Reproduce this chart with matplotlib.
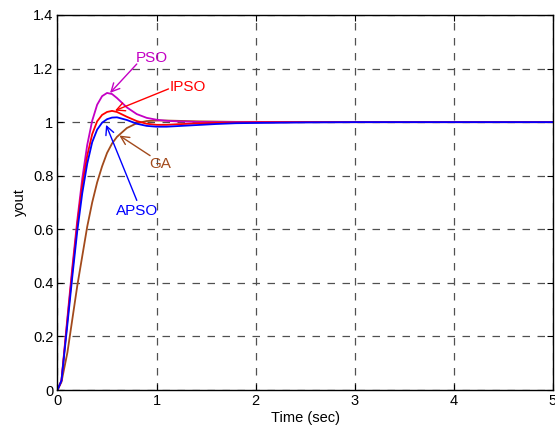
import matplotlib
matplotlib.use("Agg")
import matplotlib.pyplot as plt
import numpy as np

plt.rcParams['font.family'] = ['Liberation Sans', 'DejaVu Sans']

# time samples (s)
t = [0, 0.04, 0.1, 0.15, 0.2, 0.25, 0.3, 0.35, 0.4, 0.45, 0.5, 0.55, 0.6, 0.7, 0.8,
     0.9, 1.0, 1.1, 1.2, 1.4, 1.6, 1.8, 2.0, 2.5, 3.0, 4.0, 5.0]

pso = [0, 0.035, 0.27, 0.46, 0.635, 0.79, 0.915, 1.005, 1.065, 1.097, 1.109, 1.105, 1.09,
       1.055, 1.03, 1.016, 1.009, 1.005, 1.003, 1.001, 1.0, 1.0, 1.0, 1.0, 1.0, 1.0, 1.0]
ipso = [0, 0.035, 0.26, 0.445, 0.62, 0.765, 0.875, 0.955, 1.003, 1.027, 1.038, 1.042, 1.038,
        1.02, 1.004, 0.994, 0.99, 0.99, 0.992, 0.995, 0.997, 0.998, 0.999, 1.0, 1.0, 1.0, 1.0]
apso = [0, 0.035, 0.245, 0.425, 0.595, 0.735, 0.845, 0.925, 0.972, 0.998, 1.011, 1.017, 1.018,
        1.008, 0.994, 0.986, 0.983, 0.983, 0.985, 0.989, 0.993, 0.996, 0.997, 0.999, 1.0, 1.0, 1.0]
ga = [0, 0.03, 0.14, 0.265, 0.39, 0.5, 0.61, 0.7, 0.775, 0.835, 0.885, 0.92, 0.945,
      0.978, 0.996, 1.004, 1.006, 1.006, 1.005, 1.003, 1.002, 1.001, 1.001, 1.0, 1.0, 1.0, 1.0]

xticks = [0, 1, 2, 3, 4, 5]
yticks = [0, 0.2, 0.4, 0.6, 0.8, 1.0, 1.2, 1.4]
ytick_labels = ['0', '0.2', '0.4', '0.6', '0.8', '1', '1.2', '1.4']

c_pso = '#c400c4'
c_ipso = '#ff0000'
c_apso = '#0000ff'
c_ga = '#a24a1c'

fig = plt.figure(figsize=(5.55, 4.26), dpi=100)
ax = fig.add_axes([0.1036, 0.0845, 0.8928, 0.8803])

ax.plot(t, ga, color=c_ga, lw=1.3)
ax.plot(t, pso, color=c_pso, lw=1.3)
ax.plot(t, ipso, color=c_ipso, lw=1.3)
ax.plot(t, apso, color=c_apso, lw=1.3)

ax.set_xlim(0, 5)
ax.set_ylim(0, 1.4)
ax.set_xticks(xticks)
ax.set_xticklabels([str(v) for v in xticks])
ax.set_yticks(yticks)
ax.set_yticklabels(ytick_labels)
ax.tick_params(direction='in', length=4, width=0.8, labelsize=10.5, pad=3,
               top=True, right=True)
ax.grid(True, color='#505050', linestyle=(0, (6, 6)), lw=0.9)
for s in ax.spines.values():
    s.set_linewidth(1.0)

ax.set_xlabel('Time (sec)', fontsize=10.5, labelpad=2)
ax.set_ylabel('yout', fontsize=10.5, labelpad=4)

arrow = dict(arrowstyle='->,head_length=0.6,head_width=0.3', lw=1.0, shrinkA=0, shrinkB=0)

def note(txt, col, tip, start, pos):
    a = dict(arrow); a['color'] = col
    ax.annotate('', xy=tip, xytext=start, arrowprops=a)
    ax.text(pos[0], pos[1], txt, color=col, fontsize=11, ha='center', va='center')

note('PSO', c_pso, (0.53, 1.109), (0.80, 1.217), (0.955, 1.239))
note('IPSO', c_ipso, (0.58, 1.043), (1.12, 1.124), (1.31, 1.130))
note('GA', c_ga, (0.624, 0.95), (0.934, 0.875), (1.04, 0.842))
note('APSO', c_apso, (0.49, 0.99), (0.80, 0.708), (0.80, 0.670))

fig.savefig('out.png', dpi=100)
